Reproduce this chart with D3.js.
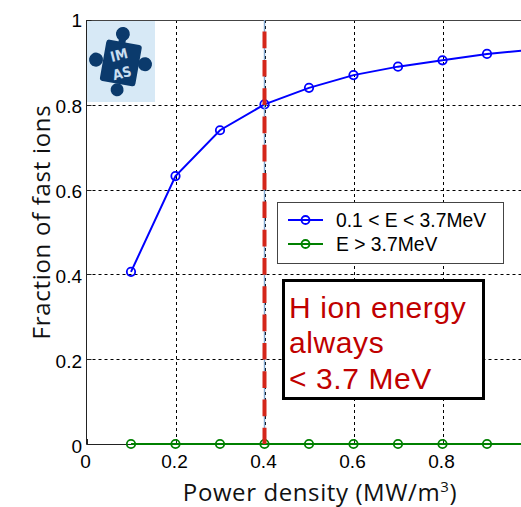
<!DOCTYPE html>
<html>
<head>
<meta charset="utf-8">
<script src="https://cdn.jsdelivr.net/npm/d3@7"></script>
<style>
  html, body { margin: 0; padding: 0; background: #fff; }
  svg { display: block; }
</style>
</head>
<body>
<svg id="chart" width="521" height="507"></svg>
<script>
// Power density (MW/m^3) sample points
const powerDensity = [0.1, 0.2, 0.3, 0.4, 0.5, 0.6, 0.7, 0.8, 0.9, 1.0];
// Fraction of fast ions in each energy band
const fracLow = [0.406, 0.632, 0.740, 0.801, 0.840, 0.870, 0.890, 0.905, 0.920, 0.930];
const fracHigh = [0, 0, 0, 0, 0, 0, 0, 0, 0, 0];
const seriesNames = ["0.1 < E < 3.7MeV", "E > 3.7MeV"];
const seriesColors = ["#0000ff", "#008000"];
const xTicks = [0, 0.2, 0.4, 0.6, 0.8];
const yTicks = [0, 0.2, 0.4, 0.6, 0.8, 1];
const thresholdX = 0.4;
const noteLines = ["H ion energy", "always", "< 3.7 MeV"];

const svg = d3.select("#chart");
const x = d3.scaleLinear().domain([0, 1]).range([86.5, 531.5]);
const y = d3.scaleLinear().domain([0, 1]).range([444, 20]);

const tickFont = "'Liberation Sans', Arial, sans-serif";
const labelFont = "'Open Sans', 'Noto Sans', sans-serif";

// grid lines
const grid = svg.append("g").attr("stroke", "#000").attr("stroke-width", 1)
  .attr("stroke-dasharray", "3,3");
xTicks.filter(d => d > 0).forEach(d => {
  grid.append("line").attr("x1", Math.round(x(d)) + 0.5).attr("x2", Math.round(x(d)) + 0.5)
    .attr("y1", y(1)).attr("y2", y(0));
});
yTicks.filter(d => d > 0 && d < 1).forEach(d => {
  grid.append("line").attr("x1", x(0)).attr("x2", 521)
    .attr("y1", Math.round(y(d)) + 0.5).attr("y2", Math.round(y(d)) + 0.5);
});

// axes frame
svg.append("line").attr("x1", x(0)).attr("x2", x(0)).attr("y1", y(1)).attr("y2", y(0))
  .attr("stroke", "#222").attr("stroke-width", 1);
svg.append("line").attr("x1", x(0)).attr("x2", 521).attr("y1", y(0) + 0.5).attr("y2", y(0) + 0.5)
  .attr("stroke", "#222").attr("stroke-width", 1);
svg.append("line").attr("x1", x(0)).attr("x2", 521).attr("y1", y(1) + 0.5).attr("y2", y(1) + 0.5)
  .attr("stroke", "#444").attr("stroke-width", 1);

// inward ticks
const ticks = svg.append("g").attr("stroke", "#222").attr("stroke-width", 1);
xTicks.forEach(d => {
  ticks.append("line").attr("x1", Math.round(x(d)) + 0.5).attr("x2", Math.round(x(d)) + 0.5)
    .attr("y1", y(0)).attr("y2", y(0) - 5);
});
yTicks.forEach(d => {
  ticks.append("line").attr("x1", x(0)).attr("x2", x(0) + 5)
    .attr("y1", Math.round(y(d)) + 0.5).attr("y2", Math.round(y(d)) + 0.5);
});

// tick labels
svg.append("g").selectAll("text").data(xTicks).join("text")
  .attr("x", d => x(d) - 1).attr("y", 468)
  .attr("text-anchor", "middle")
  .attr("font-family", tickFont).attr("font-size", 19)
  .text(d => d === 0 ? "0" : d3.format(".1f")(d));
svg.append("g").selectAll("text").data(yTicks).join("text")
  .attr("x", 82).attr("y", d => y(d) + (d === 1 ? 0 : 2))
  .attr("dy", "0.35em")
  .attr("text-anchor", "end")
  .attr("font-family", tickFont).attr("font-size", 19)
  .text(d => (d === 0 || d === 1) ? String(d) : d3.format(".1f")(d));

// axis titles
const xTitle = svg.append("text").attr("x", 320).attr("y", 501).attr("text-anchor", "middle")
  .attr("font-family", labelFont).attr("font-size", 24).attr("letter-spacing", 0.6)
  .attr("fill", "#111");
xTitle.append("tspan").text("Power density (MW/m");
xTitle.append("tspan").attr("font-size", 15).attr("dy", -9).text("3");
xTitle.append("tspan").attr("dy", 9).text(")");
svg.append("text")
  .attr("transform", "translate(50,222) rotate(-90)")
  .attr("text-anchor", "middle")
  .attr("font-family", labelFont).attr("font-size", 24).attr("letter-spacing", 0.7)
  .attr("fill", "#111")
  .text("Fraction of fast ions");

// logo in the top-left corner of the axes
const logo = svg.append("g");
logo.append("rect").attr("x", 87).attr("y", 21).attr("width", 68).attr("height", 81).attr("fill", "#d7e9f6");
const piece = logo.append("g").attr("fill", "#0b3a6c").attr("transform", "rotate(10,121,62)");
piece.append("rect").attr("x", 103).attr("y", 42).attr("width", 36).attr("height", 42).attr("rx", 3);
piece.append("circle").attr("cx", 118).attr("cy", 34).attr("r", 7);
piece.append("rect").attr("x", 115).attr("y", 36).attr("width", 7).attr("height", 8);
piece.append("circle").attr("cx", 96).attr("cy", 64).attr("r", 7);
piece.append("circle").attr("cx", 145).attr("cy", 60).attr("r", 7);
piece.append("circle").attr("cx", 122).attr("cy", 90).attr("r", 6.5);
logo.append("text").attr("x", 119).attr("y", 60).attr("text-anchor", "middle")
  .attr("transform", "rotate(-14,119,55)")
  .attr("font-family", "'DejaVu Sans Condensed', 'DejaVu Sans', sans-serif").attr("font-weight", "bold")
  .attr("font-size", 14).attr("fill", "#c9def0").text("IM");
logo.append("text").attr("x", 122).attr("y", 78).attr("text-anchor", "middle")
  .attr("transform", "rotate(-14,122,73)")
  .attr("font-family", "'DejaVu Sans Condensed', 'DejaVu Sans', sans-serif").attr("font-weight", "bold")
  .attr("font-size", 14).attr("fill", "#c9def0").text("AS");

// data series
const line = d3.line().x(d => x(d[0])).y(d => y(d[1]));
[fracLow, fracHigh].forEach((vals, i) => {
  const pts = powerDensity.map((p, j) => [p, vals[j]]);
  svg.append("path").datum(pts).attr("d", line)
    .attr("fill", "none").attr("stroke", seriesColors[i]).attr("stroke-width", 2);
  svg.append("g").selectAll("circle").data(pts).join("circle")
    .attr("cx", d => x(d[0])).attr("cy", d => y(d[1])).attr("r", 4.2)
    .attr("fill", "none").attr("stroke", seriesColors[i]).attr("stroke-width", 1.8);
});

// threshold marker line
svg.append("line").attr("x1", x(thresholdX)).attr("x2", x(thresholdX))
  .attr("y1", y(1)).attr("y2", y(0))
  .attr("stroke", "#7fa6cf").attr("stroke-width", 1.4);
svg.append("line").attr("x1", x(thresholdX)).attr("x2", x(thresholdX))
  .attr("y1", y(1)).attr("y2", y(0))
  .attr("stroke", "#d4261a").attr("stroke-width", 4)
  .attr("stroke-dasharray", "16.7,11.6").attr("stroke-dashoffset", 16.7);

// legend
const lg = svg.append("g");
lg.append("rect").attr("x", 277.5).attr("y", 202.5).attr("width", 226).attr("height", 61)
  .attr("fill", "#fff").attr("stroke", "#444").attr("stroke-width", 1);
seriesNames.forEach((name, i) => {
  const ly = 220 + i * 24;
  lg.append("line").attr("x1", 288).attr("x2", 323).attr("y1", ly).attr("y2", ly)
    .attr("stroke", seriesColors[i]).attr("stroke-width", 2);
  lg.append("circle").attr("cx", 305.5).attr("cy", ly).attr("r", 4)
    .attr("fill", "none").attr("stroke", seriesColors[i]).attr("stroke-width", 1.8);
  lg.append("text").attr("x", 336).attr("y", ly).attr("dy", "0.36em")
    .attr("font-family", tickFont).attr("font-size", 19.3).attr("fill", "#000")
    .text(name);
});

// annotation box
const note = svg.append("g");
note.append("rect").attr("x", 283.5).attr("y", 280.5).attr("width", 200).attr("height", 118)
  .attr("fill", "#fff").attr("stroke", "#000").attr("stroke-width", 3);
const noteBaselines = [318, 353, 389];
noteLines.forEach((t, i) => {
  note.append("text").attr("x", 289).attr("y", noteBaselines[i])
    .attr("font-family", tickFont).attr("font-size", 30).attr("letter-spacing", 0.6)
    .attr("fill", "#c00000").text(t);
});
</script>
</body>
</html>
